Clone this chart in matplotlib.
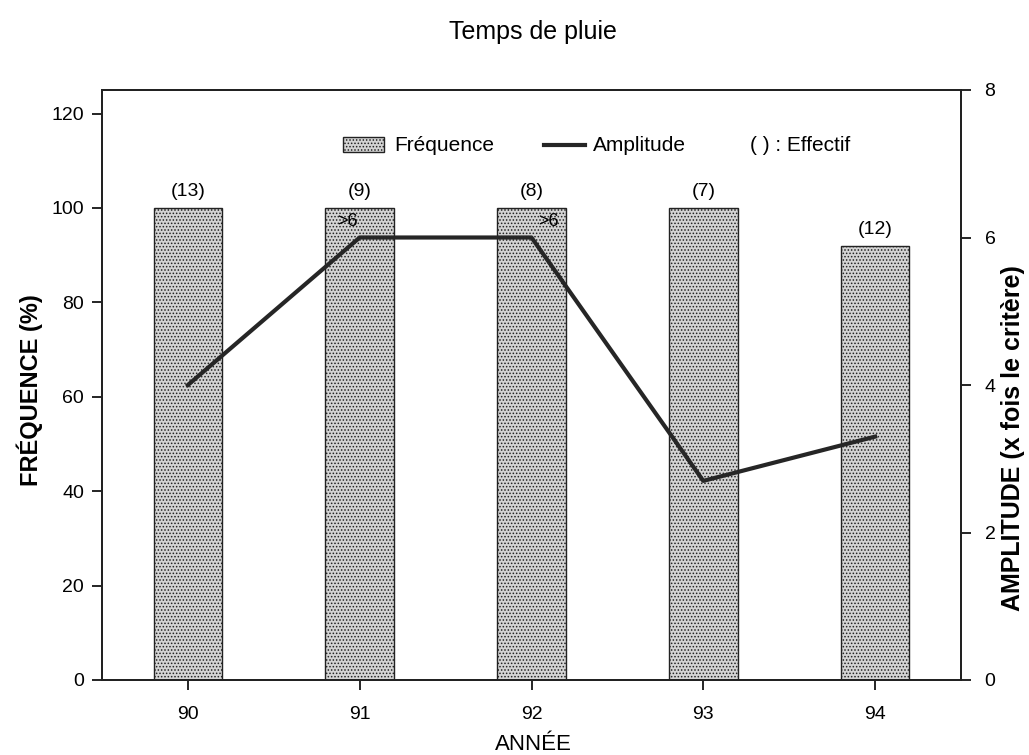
import matplotlib.pyplot as plt
import numpy as np

plt.rcParams['font.family'] = ['Liberation Sans', 'DejaVu Sans']
plt.rcParams['hatch.color'] = '#444444'
plt.rcParams['hatch.linewidth'] = 0.7

annees = ['90', '91', '92', '93', '94']
frequence = [100, 100, 100, 100, 92]
amplitude = [4.0, 6.0, 6.0, 2.7, 3.3]
effectif = ['(13)', '(9)', '(8)', '(7)', '(12)']
superieur = ['', '>6', '>6', '', '']

W, H = 1029, 755
fig = plt.figure(figsize=(W / 100, H / 100), dpi=100)
ax = fig.add_axes([102 / W, 1 - 680 / H, 859 / W, 590 / H])
x = np.arange(len(annees))

bar_style = dict(facecolor='#d4d4d4', edgecolor='#222222', linewidth=1.0,
                 hatch='.....', zorder=2)
ax.bar(x, frequence, width=0.4, **bar_style)
ax.set_xlim(-0.5, len(annees) - 0.5)
ax.set_ylim(0, 125)
ax.set_yticks([0, 20, 40, 60, 80, 100, 120])
ax.set_xticks(x)
ax.set_xticklabels(annees)
ax.tick_params(axis='both', labelsize=14, length=7, width=1.2, direction='out', pad=6)
ax.tick_params(axis='x', pad=12)
for s in ax.spines.values():
    s.set_linewidth(1.4)
    s.set_color('#222222')

for xi, f, e in zip(x, frequence, effectif):
    ax.text(xi, f + 3.5, e, ha='center', va='center', fontsize=14)

ax2 = ax.twinx()
ax2.plot(x, amplitude, color='#262626', linewidth=3, zorder=3)
ax2.set_ylim(0, 8)
ax2.set_yticks([0, 2, 4, 6, 8])
ax2.tick_params(axis='y', labelsize=14, length=7, width=1.2, direction='out', pad=10)
for s in ax2.spines.values():
    s.set_linewidth(1.4)
    s.set_color('#222222')

# ">6" marks on the bars where the amplitude is capped
offsets = [0, -0.07, 0.1, 0, 0]
for xi, a, t, dx in zip(x, amplitude, superieur, offsets):
    if t:
        ax2.text(xi + dx, a + 0.22, t, ha='center', va='center', fontsize=13)

# legend drawn in data coordinates of the bar axis
ax.bar(1.02, 3.2, width=0.24, bottom=111.8, **bar_style)
ax.text(1.2, 113.3, 'Fréquence', ha='left', va='center', fontsize=15)
ax.plot([2.07, 2.31], [113.3, 113.3], color='#262626', linewidth=3)
ax.text(2.36, 113.3, 'Amplitude', ha='left', va='center', fontsize=15)
ax.text(3.27, 113.3, '( ) : Effectif', ha='left', va='center', fontsize=15)

fig.text(533 / W, 1 - 32 / H, 'Temps de pluie', ha='center', va='center',
         fontsize=18)
fig.text(30 / W, 1 - 390 / H, 'FRÉQUENCE (%)', rotation=90, ha='center',
         va='center', fontsize=17, fontweight='bold')
fig.text(1013 / W, 1 - 438 / H, 'AMPLITUDE (x fois le critère)', rotation=90,
         ha='center', va='center', fontsize=18, fontweight='bold')
fig.text(533 / W, 1 - 744 / H, 'ANNÉE', ha='center', va='center', fontsize=16)

fig.savefig('out.png', dpi=100)
